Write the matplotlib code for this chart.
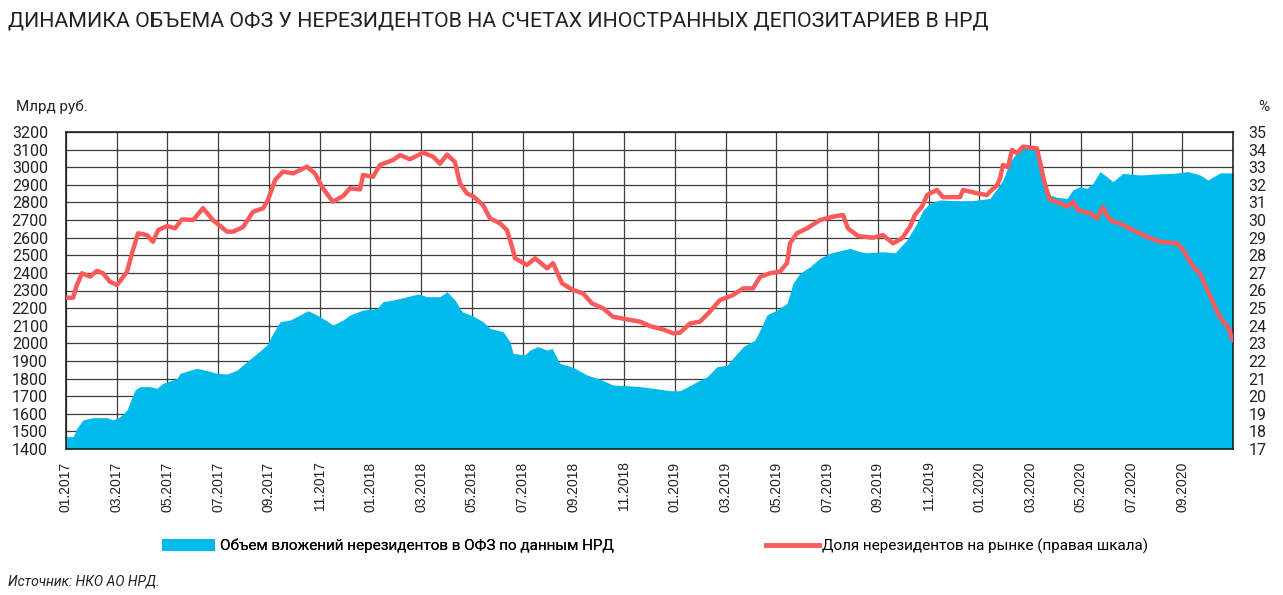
import matplotlib
matplotlib.use("Agg")
import matplotlib.pyplot as plt
import matplotlib.font_manager as fm
from matplotlib.patches import Patch
from matplotlib.lines import Line2D

# ---------------- data (x = months since 01.2017) ----------------
vol_t = [0, 0.28, 0.43, 0.67, 1.06, 1.62, 1.85, 2.13, 2.40, 2.72, 2.92, 3.31, 3.59, 3.82,
         4.38, 4.49, 5.16, 5.56, 5.95, 6.35, 6.74, 7.13, 7.53, 7.92, 8.16, 8.44, 8.83, 9.22,
         9.54, 9.89, 10.29, 10.52, 10.92, 11.19, 11.71, 12.26, 12.50, 12.89, 13.17, 13.87,
         14.23, 14.74, 15.02, 15.33, 15.61, 16.04, 16.44, 16.71, 17.23, 17.50, 17.62, 18.09,
         18.29, 18.60, 18.96, 19.16, 19.47, 19.98, 20.54, 21.05, 21.56, 22.11, 22.63, 23.14,
         23.81, 24.20, 24.52, 24.87, 25.27, 25.66, 26.06, 26.29, 26.69, 27.16, 27.36, 27.63,
         28.03, 28.42, 28.66, 28.93, 29.33, 29.72, 30.11, 30.51, 30.90, 31.30, 31.57, 32.20,
         32.68, 33.15, 33.54, 33.78, 34.06, 34.45, 35.12, 35.75,
         36.42, 36.93, 37.21, 37.60, 37.88, 38.27, 38.51, 38.79, 39.06, 39.46, 39.69, 39.97,
         40.24, 40.48, 40.76, 41.03, 41.27, 41.66, 42.33, 43.00, 43.63, 44.23, 44.70, 45.01,
         45.49, 46.00]
vol_val = [1470, 1470, 1518, 1565, 1578, 1578, 1565, 1583, 1621, 1735, 1754, 1754, 1745, 1773,
           1801, 1830, 1858, 1845, 1830, 1826, 1848, 1896, 1943, 1990, 2057, 2123, 2132, 2161,
           2185, 2161, 2127, 2104, 2132, 2161, 2189, 2198, 2237, 2246, 2255, 2280,
           2265, 2265, 2293, 2246, 2180, 2155, 2123, 2085, 2066, 2009, 1943, 1934,
           1962, 1981, 1962, 1971, 1886, 1864, 1820, 1796, 1763, 1760, 1754, 1745,
           1731, 1731, 1754, 1782, 1810, 1867, 1876, 1915, 1981, 2019, 2076, 2161,
           2189, 2227, 2341, 2398, 2435, 2483, 2511, 2526, 2539, 2520, 2514, 2520,
           2514, 2587, 2682, 2757, 2795, 2814, 2810, 2810,
           2823, 2927, 3031, 3107, 3120, 3088, 2965, 2842, 2829, 2823, 2871, 2890,
           2880, 2909, 2975, 2946, 2918, 2965, 2956, 2962, 2965, 2975, 2956, 2927,
           2968, 2968]

share_t = [0, 0.28, 0.43, 0.63, 0.95, 1.22, 1.46, 1.73, 2.01, 2.40, 2.60, 2.84, 3.19, 3.43,
           3.63, 3.98, 4.30, 4.57, 5.01, 5.40, 5.79, 6.35, 6.58, 6.98, 7.37, 7.77, 7.96, 8.24,
           8.55, 8.95, 9.50, 9.81, 10.13, 10.52, 10.92, 11.19, 11.59, 11.71, 12.10, 12.38,
           12.89, 13.17, 13.56, 14.07, 14.47, 14.74, 15.02, 15.33, 15.53, 15.81, 16.04, 16.44,
           16.71, 17.11, 17.38, 17.58, 17.70, 18.17, 18.49, 18.96, 19.20, 19.55, 19.98, 20.38,
           20.73, 21.17, 21.56, 22.11, 22.63, 23.02, 23.53, 23.93, 24.20, 24.60, 24.99, 25.38,
           25.78, 26.29, 26.69, 27.08, 27.36, 27.75, 28.14, 28.42, 28.54, 28.81, 29.21, 29.72,
           30.23, 30.63, 30.82, 31.22, 31.81, 32.20, 32.60, 32.95, 33.27, 33.46, 33.74, 33.94,
           34.33, 34.57, 35.24, 35.36, 35.91, 36.30,
           36.42, 36.70, 36.82, 36.93, 37.13, 37.29, 37.49, 37.72, 38.27, 38.39, 38.59, 38.79,
           39.06, 39.46, 39.69, 39.89, 40.36, 40.64, 40.87, 41.15, 41.55, 42.06, 42.61, 43.12,
           43.79, 44.03, 44.23, 44.42, 44.70, 44.90, 45.17, 45.41, 45.61, 45.80, 45.96, 46.00]
share_val = [25.59, 25.59, 26.31, 26.98, 26.79, 27.12, 26.98, 26.5, 26.31, 27.05, 28.11, 29.25, 29.15, 28.77,
             29.43, 29.66, 29.53, 30.04, 30.0, 30.67, 30.0, 29.34, 29.34, 29.6, 30.47, 30.67, 31.14, 32.27,
             32.75, 32.65, 33.03, 32.65, 31.8, 31.04, 31.36, 31.8, 31.74, 32.56, 32.46, 33.13,
             33.41, 33.69, 33.45, 33.83, 33.6, 33.2, 33.72, 33.3, 32.08, 31.5, 31.36, 30.85,
             30.1, 29.81, 29.43, 28.49, 27.83, 27.45, 27.83, 27.26, 27.55, 26.41, 26.03, 25.84,
             25.27, 24.99, 24.51, 24.36, 24.23, 23.98, 23.79, 23.57, 23.6, 24.13, 24.23, 24.8,
             25.46, 25.74, 26.12, 26.12, 26.78, 26.98, 27.07, 27.55, 28.68, 29.25, 29.53, 30.0,
             30.19, 30.29, 29.53, 29.09, 29.0, 29.15, 28.68, 28.96, 29.62, 30.29, 30.76, 31.42,
             31.71, 31.3, 31.3, 31.71, 31.52, 31.42,
             31.61, 31.99, 32.37, 33.13, 33.0, 33.98, 33.8, 34.17, 34.07, 33.31, 31.99, 31.14,
             31.04, 30.76, 31.04, 30.57, 30.38, 30.1, 30.72, 30.0, 29.8, 29.43, 29.05, 28.77,
             28.67, 28.3, 27.83, 27.35, 26.98, 26.31, 25.46, 24.7, 24.23, 23.94, 23.28, 23.2]

tick_labels = ["01.2017", "03.2017", "05.2017", "07.2017", "09.2017", "11.2017",
               "01.2018", "03.2018", "05.2018", "07.2018", "09.2018", "11.2018",
               "01.2019", "03.2019", "05.2019", "07.2019", "09.2019", "11.2019",
               "01.2020", "03.2020", "05.2020", "07.2020", "09.2020"]
left_ticks = list(range(1400, 3201, 100))
right_ticks = list(range(17, 36))

title = "ДИНАМИКА ОБЪЕМА ОФЗ У НЕРЕЗИДЕНТОВ НА СЧЕТАХ ИНОСТРАННЫХ ДЕПОЗИТАРИЕВ В НРД"
legend_vol = "Объем вложений нерезидентов в ОФЗ по данным НРД"
legend_share = "Доля нерезидентов на рынке (правая шкала)"
source = "Источник: НКО АО НРД."

# ---------------- styling ----------------
names = {f.name for f in fm.fontManager.ttflist}
narrow = "Liberation Sans Narrow" in names
cond_family = ["Liberation Sans Narrow", "Roboto", "DejaVu Sans"] if narrow else ["Roboto", "DejaVu Sans"]
title_size = 17.5 if narrow else 15.4
leg_size = 12.5 if narrow else 11.0

plt.rcParams["font.family"] = ["Liberation Sans", "DejaVu Sans"]

BLUE = "#00BAEC"
RED = "#FA5A5A"
GRID = "#3c3c3c"
TXT = "#222222"

fig = plt.figure(figsize=(12.83, 5.95), dpi=100)
ax = fig.add_axes([66 / 1283, 1 - 449 / 595, (1233 - 66) / 1283, (449 - 132) / 595])

ax.fill_between(vol_t, vol_val, 1400, color=BLUE, lw=0, zorder=2)
ax.set_xlim(0, 46)
ax.set_ylim(1400, 3200)
ax.set_yticks(left_ticks)
ax.set_xticks(list(range(0, 45, 2)))
ax.set_xticklabels(tick_labels, rotation=90, fontsize=10, color=TXT)
ax.tick_params(axis="x", length=0, pad=9)
ax.tick_params(axis="y", length=0, pad=13, labelsize=11.5, labelcolor=TXT)
for lab in ax.get_yticklabels():
    lab.set_family(["Roboto", "DejaVu Sans"])
ax.grid(True, color=GRID, lw=0.9, zorder=0)
ax.set_axisbelow(True)
for s in ax.spines.values():
    s.set_color("#222222")
    s.set_linewidth(1.2)
    s.set_zorder(5)

ax2 = ax.twinx()
ax2.plot(share_t, share_val, color=RED, lw=3.2, solid_joinstyle="round", zorder=3)
ax2.set_ylim(17, 35)
ax2.set_yticks(right_ticks)
ax2.tick_params(axis="y", length=0, pad=11, labelsize=11.5, labelcolor=TXT)
for lab in ax2.get_yticklabels():
    lab.set_family(["Roboto", "DejaVu Sans"])
for s in ax2.spines.values():
    s.set_visible(False)

fig.text(16 / 1283, 1 - 107 / 595, "Млрд руб.", fontsize=11, color=TXT,
         family=["Roboto", "DejaVu Sans"], va="center", ha="left")
fig.text(1264 / 1283, 1 - 107 / 595, "%", fontsize=11, color=TXT,
         family=["Roboto", "DejaVu Sans"], va="center", ha="center")

fig.text(8 / 1283, 1 - 21 / 595, title, fontsize=title_size, color=TXT,
         family=cond_family, va="center", ha="left")

h1 = Patch(facecolor=BLUE, edgecolor="none")
leg1 = fig.legend([h1], [legend_vol], loc="center left",
                  bbox_to_anchor=(148 / 1283, 1 - 546 / 595), frameon=False,
                  prop={"family": cond_family, "size": leg_size},
                  handlelength=3.5, handleheight=0.9, handletextpad=0.3)
h2 = Line2D([0], [0], color=RED, lw=3.5)
leg2 = fig.legend([h2], [legend_share], loc="center left",
                  bbox_to_anchor=(752 / 1283, 1 - 546 / 595), frameon=False,
                  prop={"family": cond_family, "size": leg_size},
                  handlelength=3.5, handletextpad=0.2)
fig.add_artist(leg1)

fig.text(8 / 1283, 1 - 582 / 595, source, fontsize=leg_size - 1, color=TXT,
         family=cond_family, style="italic", va="center", ha="left")

fig.savefig("out.png", dpi=100)
